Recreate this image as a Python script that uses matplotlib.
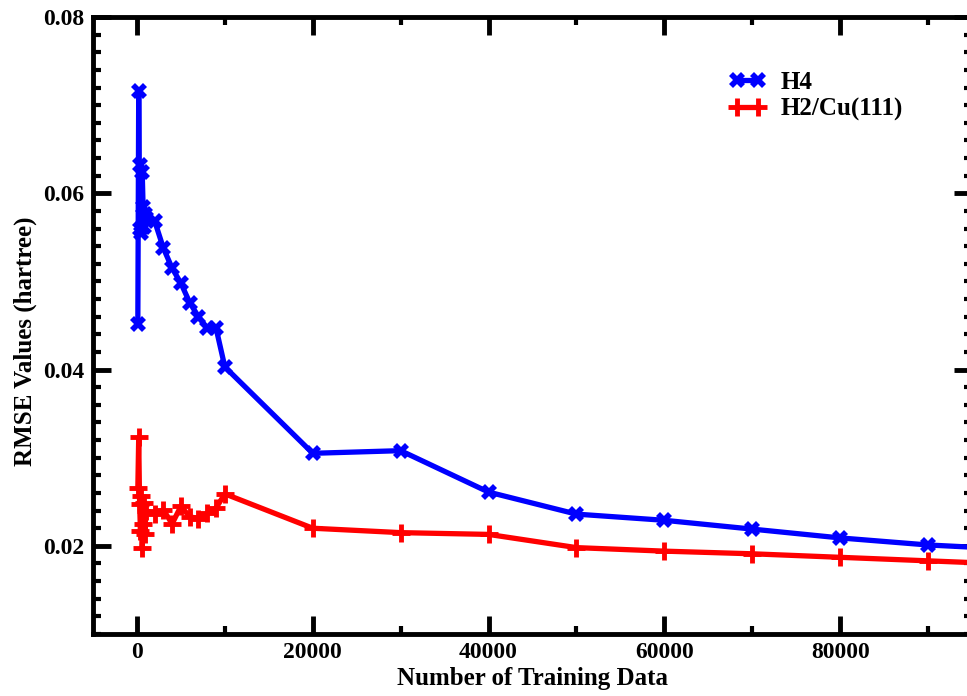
import matplotlib
matplotlib.use("Agg")
import matplotlib.pyplot as plt
from matplotlib.ticker import MultipleLocator

# training set sizes and RMSE (hartree)
h4_x = [100, 200, 300, 400, 500, 600, 700, 800, 900, 1000,
        2000, 3000, 4000, 5000, 6000, 7000, 8000, 9000, 10000,
        20000, 30000, 40000, 50000, 60000, 70000, 80000, 90000, 100000]
h4_y = [0.0452, 0.0716, 0.0560, 0.0632, 0.0555, 0.0624, 0.0584, 0.0562, 0.0577, 0.0572,
        0.0569, 0.0538, 0.0515, 0.0498, 0.0476, 0.0460, 0.0447, 0.0447, 0.0403,
        0.0305, 0.0308, 0.0261, 0.0236, 0.0229, 0.0219, 0.0209, 0.0201, 0.0196]

cu_x = [100, 200, 300, 400, 500, 600, 700, 800, 900, 1000,
        2000, 3000, 4000, 5000, 6000, 7000, 8000, 9000, 10000,
        20000, 30000, 40000, 50000, 60000, 70000, 80000, 90000, 100000]
cu_y = [0.0266, 0.0323, 0.0248, 0.0217, 0.0257, 0.0198, 0.0225, 0.0249, 0.0214, 0.0240,
        0.0236, 0.0241, 0.0225, 0.0245, 0.0233, 0.0231, 0.0237, 0.0243, 0.0259,
        0.0220, 0.0215, 0.0213, 0.0198, 0.0194, 0.0191, 0.0187, 0.0183, 0.0179]

plt.rcParams['font.family'] = ['Liberation Serif', 'DejaVu Serif']
plt.rcParams['font.weight'] = 'bold'

fig = plt.figure(figsize=(9.67, 6.96), dpi=100)
ax = fig.add_axes([93 / 967, 62 / 696, 879 / 967, 617 / 696])

ax.plot(h4_x, h4_y, color='#0000ff', lw=3.8, marker='X', ms=11, mew=0, label='H4')
ax.plot(cu_x, cu_y, color='#ff0000', lw=3.8, marker='+', ms=13, mew=3.5, label='H2/Cu(111)')

ax.set_xlim(-5000, 95000)
ax.set_ylim(0.01, 0.08)
ax.xaxis.set_major_locator(MultipleLocator(20000))
ax.xaxis.set_minor_locator(MultipleLocator(10000))
ax.yaxis.set_major_locator(MultipleLocator(0.02))
ax.yaxis.set_minor_locator(MultipleLocator(0.002))

ax.tick_params(which='both', direction='in', top=True, right=True, labelsize=17, pad=6)
ax.tick_params(which='major', length=13, width=3.5)
ax.tick_params(which='minor', length=6, width=3)
for s in ax.spines.values():
    s.set_linewidth(3.5)
for lab in ax.get_xticklabels() + ax.get_yticklabels():
    lab.set_fontweight('bold')

ax.set_xlabel('Number of Training Data', fontsize=18, fontweight='bold', labelpad=3)
ax.set_ylabel('RMSE Values (hartree)', fontsize=18, fontweight='bold')
ax.yaxis.set_label_coords(-0.064, 0.475)

ax.legend(loc='upper left', bbox_to_anchor=(729 / 967, 1 - 71 / 696),
          bbox_transform=fig.transFigure, frameon=False, numpoints=2,
          borderpad=0, borderaxespad=0, handlelength=1.45, handletextpad=0.6,
          labelspacing=0.15, prop={'weight': 'bold', 'size': 18})

fig.savefig('out.png', dpi=100)
